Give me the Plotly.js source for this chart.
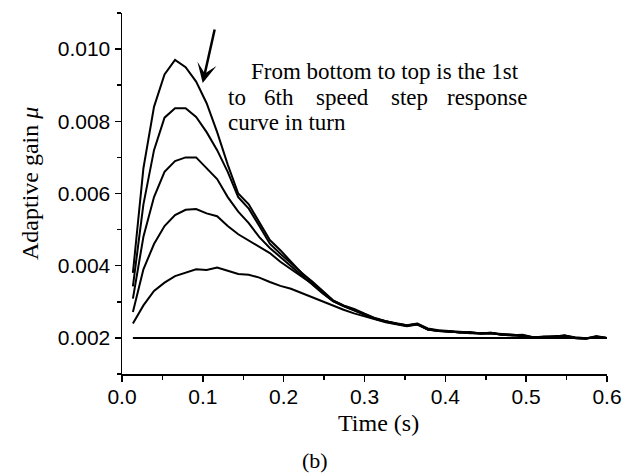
<!DOCTYPE html>
<html>
<head>
<meta charset="utf-8">
<script src="https://cdn.plot.ly/plotly-3.0.1.min.js"></script>
<style>html,body{margin:0;padding:0;background:#fff;}#chart{width:633px;height:473px;}</style>
</head>
<body>
<div id="chart"></div>
<script>
// Time (s)
const time = [0.0135, 0.0265, 0.0396, 0.0526, 0.0656, 0.0787, 0.0917, 0.1047, 0.1177, 0.1308,
  0.1438, 0.1568, 0.1699, 0.1829, 0.1959, 0.2090, 0.2220, 0.2350, 0.2480, 0.2611,
  0.2741, 0.2871, 0.3002, 0.3132, 0.3262, 0.3393, 0.3523, 0.3653, 0.3783, 0.3914,
  0.4044, 0.4174, 0.4305, 0.4435, 0.4565, 0.4696, 0.4826, 0.4956, 0.5086, 0.5217,
  0.5347, 0.5477, 0.5608, 0.5738, 0.5868, 0.6000];

// 1st speed step (flat)
const step1 = [0.002, 0.002, 0.002, 0.002, 0.002, 0.002, 0.002, 0.002, 0.002, 0.002,
  0.002, 0.002, 0.002, 0.002, 0.002, 0.002, 0.002, 0.002, 0.002, 0.002,
  0.002, 0.002, 0.002, 0.002, 0.002, 0.002, 0.002, 0.002, 0.002, 0.002,
  0.002, 0.002, 0.002, 0.002, 0.002, 0.002, 0.002, 0.002, 0.002, 0.002,
  0.002, 0.002, 0.002, 0.002, 0.002, 0.002];

const step2 = [0.0024, 0.0029, 0.0033, 0.00353, 0.00371, 0.0038, 0.0039, 0.00388, 0.00395, 0.00386,
  0.00377, 0.00375, 0.00367, 0.00355, 0.00344, 0.00336, 0.00324, 0.00313, 0.0030, 0.00288,
  0.00278, 0.00268, 0.00259, 0.0025, 0.00243, 0.00238, 0.00232, 0.00237, 0.00223, 0.00219,
  0.00217, 0.00216, 0.00213, 0.00212, 0.00213, 0.00209, 0.00209, 0.00207, 0.00202, 0.00202,
  0.00203, 0.00205, 0.0020, 0.00198, 0.00202, 0.0020];

const step3 = [0.00272, 0.0039, 0.0046, 0.0051, 0.0054, 0.00555, 0.00557, 0.00545, 0.00537, 0.0051,
  0.00487, 0.0047, 0.00454, 0.00435, 0.00411, 0.0039, 0.00371, 0.0035, 0.00325, 0.00302,
  0.00288, 0.00275, 0.00264, 0.00253, 0.00245, 0.00239, 0.00235, 0.00238, 0.00224, 0.0022,
  0.00217, 0.00216, 0.00213, 0.00213, 0.00213, 0.0021, 0.00207, 0.00206, 0.00202, 0.00203,
  0.00203, 0.00206, 0.0020, 0.00199, 0.00202, 0.0020];

const step4 = [0.00309, 0.0048, 0.0059, 0.0066, 0.0069, 0.0070, 0.0070, 0.0067, 0.0064, 0.0059,
  0.0055, 0.00518, 0.00479, 0.00449, 0.00424, 0.00398, 0.00372, 0.00349, 0.00324, 0.00302,
  0.00288, 0.00277, 0.00264, 0.00253, 0.00245, 0.00239, 0.00234, 0.00238, 0.00223, 0.00219,
  0.00217, 0.00214, 0.00213, 0.00212, 0.00214, 0.00209, 0.00207, 0.00207, 0.0020, 0.00202,
  0.00205, 0.00205, 0.00199, 0.00198, 0.00202, 0.0020];

const step5 = [0.00343, 0.0057, 0.0072, 0.0081, 0.00836, 0.00836, 0.00812, 0.0077, 0.0072, 0.0066,
  0.0059, 0.00558, 0.0051, 0.00461, 0.00433, 0.00407, 0.0038, 0.00354, 0.00327, 0.00303,
  0.00289, 0.00278, 0.00266, 0.00253, 0.00245, 0.00239, 0.00234, 0.00239, 0.00224, 0.0022,
  0.00219, 0.00214, 0.00216, 0.00212, 0.00213, 0.0021, 0.00209, 0.00207, 0.0020, 0.00203,
  0.00203, 0.00207, 0.0020, 0.00198, 0.00205, 0.0020];

const step6 = [0.0038, 0.0067, 0.0084, 0.0093, 0.0097, 0.0095, 0.0091, 0.0085, 0.0077, 0.0068,
  0.0060, 0.0057, 0.0052, 0.00471, 0.00443, 0.00412, 0.0038, 0.00357, 0.0033, 0.00304,
  0.0029, 0.0028, 0.00267, 0.00255, 0.00246, 0.00241, 0.00235, 0.0024, 0.00226, 0.00221,
  0.00219, 0.00216, 0.00214, 0.00213, 0.00214, 0.00209, 0.00207, 0.00209, 0.00202, 0.00203,
  0.00205, 0.00206, 0.00202, 0.00199, 0.00203, 0.0020];

const seriesList = [step1, step2, step3, step4, step5, step6];
const seriesNames = ['1st', '2nd', '3rd', '4th', '5th', '6th'];

const xTicks = [0.0, 0.1, 0.2, 0.3, 0.4, 0.5, 0.6];
const yTicks = [0.002, 0.004, 0.006, 0.008, 0.010];

const noteLine1 = 'From bottom to top is the 1st';
const noteLine2Words = ['to', '6th', 'speed', 'step', 'response'];
const noteLine3 = 'curve in turn';

const traces = seriesList.map((ys, i) => ({
  x: time, y: ys, type: 'scatter', mode: 'lines', name: seriesNames[i],
  line: {color: '#000', width: 2}, showlegend: false, hoverinfo: 'skip'
}));

const L = 122, T = 13, W = 485, H = 361;
const px = v => (v - L) / W;
const py = v => (T + H - v) / H;
const serifFam = '"Liberation Serif", "Times New Roman", serif';
const noteFont = {family: serifFam, size: 23, color: '#000'};
const titleFont = {family: serifFam, size: 24, color: '#000'};

const annotations = [];
annotations.push({xref: 'paper', yref: 'paper', x: px(249), y: py(71), xanchor: 'left', yanchor: 'middle',
  text: noteLine1, showarrow: false, font: noteFont});
const line2X = [226, 262, 314, 389, 445];
noteLine2Words.forEach((w, i) => annotations.push({xref: 'paper', yref: 'paper', x: px(line2X[i]), y: py(97.5),
  xanchor: 'left', yanchor: 'middle', text: w, showarrow: false, font: noteFont}));
annotations.push({xref: 'paper', yref: 'paper', x: px(226), y: py(122.5), xanchor: 'left', yanchor: 'middle',
  text: noteLine3, showarrow: false, font: noteFont});
// arrow
annotations.push({xref: 'paper', yref: 'paper', x: px(202.7), y: py(83), text: '', showarrow: true,
  ax: 12.3, ay: -55, arrowhead: 3, arrowsize: 1.3, arrowwidth: 2.5, arrowcolor: '#000'});
// axis titles
annotations.push({xref: 'paper', yref: 'paper', x: px(30), y: py(184), xanchor: 'center', yanchor: 'middle',
  textangle: -90, text: 'Adaptive gain <i>μ</i>', showarrow: false, font: titleFont});
annotations.push({xref: 'paper', yref: 'paper', x: px(378), y: py(423), xanchor: 'center', yanchor: 'middle',
  text: 'Time (s)', showarrow: false, font: titleFont});
annotations.push({xref: 'paper', yref: 'paper', x: px(315), y: py(460), xanchor: 'center', yanchor: 'middle',
  text: '(b)', showarrow: false, font: {family: serifFam, size: 22, color: '#000'}});

const tickFont = {family: '"Liberation Sans", Arial, sans-serif', size: 21, color: '#000'};

const layout = {
  width: 633, height: 473,
  margin: {l: L, r: 633 - L - W, t: T, b: 473 - T - H, pad: 0},
  paper_bgcolor: '#fff', plot_bgcolor: '#fff',
  showlegend: false,
  xaxis: {
    range: [0, 0.6], tickvals: xTicks, ticktext: xTicks.map(v => v.toFixed(1)),
    showline: true, linecolor: '#000', linewidth: 1.5, mirror: false,
    ticks: 'outside', ticklen: 6, tickwidth: 1.5, tickcolor: '#000', ticklabelstandoff: -3,
    minor: {dtick: 0.05, tick0: 0, ticks: 'outside', ticklen: 4, tickwidth: 1.5, tickcolor: '#000'},
    showgrid: false, zeroline: false, tickfont: tickFont
  },
  yaxis: {
    range: [0.001, 0.011], tickvals: yTicks, ticktext: yTicks.map(v => v.toFixed(3)),
    showline: true, linecolor: '#000', linewidth: 1.5, mirror: false,
    ticks: 'outside', ticklen: 6, tickwidth: 1.5, tickcolor: '#000',
    minor: {dtick: 0.001, tick0: 0.001, ticks: 'outside', ticklen: 4, tickwidth: 1.5, tickcolor: '#000'},
    showgrid: false, zeroline: false, tickfont: tickFont
  },
  annotations: annotations
};

Plotly.newPlot('chart', traces, layout, {displayModeBar: false, staticPlot: true});
</script>
</body>
</html>
